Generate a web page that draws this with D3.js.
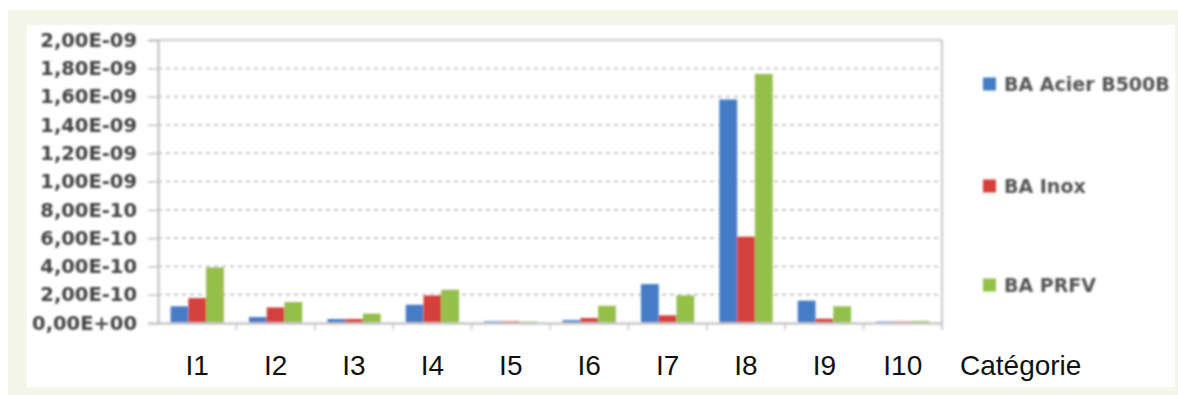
<!DOCTYPE html>
<html>
<head>
<meta charset="utf-8">
<script src="https://cdn.jsdelivr.net/npm/d3@7"></script>
<style>
  html, body { margin: 0; padding: 0; background: #ffffff; }
  svg { display: block; }
</style>
</head>
<body>
<svg id="chart" width="1178" height="395"></svg>
<script>
// Categories and series (values in the chart's unit)
const categories = ["I1", "I2", "I3", "I4", "I5", "I6", "I7", "I8", "I9", "I10"];
const seriesNames = ["BA Acier B500B", "BA Inox", "BA PRFV"];
const acierB500B = [1.18e-10, 0.42e-10, 0.28e-10, 1.29e-10, 0.12e-10, 0.20e-10, 2.75e-10, 1.58e-9, 1.58e-10, 0.10e-10];
const inox       = [1.76e-10, 1.10e-10, 0.28e-10, 1.95e-10, 0.12e-10, 0.35e-10, 0.54e-10, 6.10e-10, 0.30e-10, 0.10e-10];
const prfv       = [3.93e-10, 1.48e-10, 0.66e-10, 2.35e-10, 0.10e-10, 1.22e-10, 1.95e-10, 1.76e-9, 1.18e-10, 0.14e-10];
const yTickValues = [0, 2e-10, 4e-10, 6e-10, 8e-10, 1e-9, 1.2e-9, 1.4e-9, 1.6e-9, 1.8e-9, 2e-9];
const yTickLabels = ["0,00E+00", "2,00E-10", "4,00E-10", "6,00E-10", "8,00E-10", "1,00E-09",
                     "1,20E-09", "1,40E-09", "1,60E-09", "1,80E-09", "2,00E-09"];
const axisTitle = "Catégorie";

const seriesValues = [acierB500B, inox, prfv];
const colors = ["#447cc6", "#d43f3a", "#94bf4a"];

const svg = d3.select("#chart");

// Frame: cream border with white panel
svg.append("rect").attr("x", 8).attr("y", 10).attr("width", 1170).attr("height", 385).attr("fill", "#f3f6e8");
svg.append("rect").attr("x", 27).attr("y", 25).attr("width", 1148).attr("height", 362).attr("fill", "#ffffff");

// Soft blur for the embedded chart graphic
const defs = svg.append("defs");
defs.append("filter").attr("id", "soft").attr("x", "-5%").attr("y", "-5%").attr("width", "110%").attr("height", "110%")
  .append("feGaussianBlur").attr("stdDeviation", 1.0);

const plot = { left: 158, right: 942, top: 40, bottom: 323 };

const x = d3.scaleBand().domain(categories).range([plot.left, plot.right])
  .paddingInner(0.32).paddingOuter(0.16);
const xSub = d3.scaleBand().domain(seriesNames).range([0, x.bandwidth()]);
const xEdges = d3.scaleBand().domain(categories).range([plot.left, plot.right]);
const y = d3.scaleLinear().domain([0, 2e-9]).range([plot.bottom, plot.top]);

const g = svg.append("g").attr("filter", "url(#soft)");

// Gridlines
g.append("g").selectAll("line").data(yTickValues.slice(1, -1)).join("line")
  .attr("x1", plot.left).attr("x2", plot.right)
  .attr("y1", d => y(d)).attr("y2", d => y(d))
  .attr("stroke", "#c0c0c0").attr("stroke-width", 1.7).attr("stroke-dasharray", "4,4");

// Plot border (top and right)
g.append("line").attr("x1", plot.left).attr("x2", plot.right).attr("y1", y(2e-9)).attr("y2", y(2e-9))
  .attr("stroke", "#d0d0d0").attr("stroke-width", 2.5);
g.append("line").attr("x1", plot.right).attr("x2", plot.right).attr("y1", plot.top).attr("y2", plot.bottom + 7)
  .attr("stroke", "#d0d0d0").attr("stroke-width", 2.5);

// Y axis
const yAxis = d3.axisLeft(y).tickValues(yTickValues)
  .tickFormat((d, i) => yTickLabels[i]).tickSize(10).tickPadding(11);
const yg = g.append("g").attr("transform", `translate(${plot.left},0)`).call(yAxis);
yg.select(".domain").attr("stroke", "#c8c8c8").attr("stroke-width", 2.5);
yg.selectAll(".tick line").attr("stroke", "#c8c8c8").attr("stroke-width", 1.6);
yg.selectAll(".tick text").attr("fill", "#444444")
  .style("font-family", "'DejaVu Sans', sans-serif").style("font-weight", "bold").style("font-size", "19.5px");

// Bars
const groups = g.append("g").selectAll("g").data(categories).join("g")
  .attr("transform", d => `translate(${x(d)},0)`);
groups.selectAll("rect").data((c, i) => seriesNames.map((s, k) => ({ s, k, v: seriesValues[k][i] }))).join("rect")
  .attr("x", d => xSub(d.s)).attr("width", xSub.bandwidth())
  .attr("y", d => y(d.v)).attr("height", d => y(0) - y(d.v))
  .attr("fill", d => colors[d.k]);

// X axis line and tick marks at category boundaries
const xg = g.append("g").attr("transform", `translate(0,${plot.bottom})`)
  .call(d3.axisBottom(xEdges).tickSize(0).tickFormat(""));
xg.select(".domain").attr("stroke", "#c8c8c8").attr("stroke-width", 2.5);
g.append("g").selectAll("line").data(categories.slice(1)).join("line")
  .attr("x1", d => xEdges(d)).attr("x2", d => xEdges(d))
  .attr("y1", plot.bottom).attr("y2", plot.bottom + 7)
  .attr("stroke", "#c8c8c8").attr("stroke-width", 1.6);

// Legend
const legendY = [84, 186, 285];
const lg = g.append("g").selectAll("g").data(seriesNames).join("g")
  .attr("transform", (d, i) => `translate(983,${legendY[i]})`);
lg.append("rect").attr("x", 0).attr("y", -6.5).attr("width", 13).attr("height", 13)
  .attr("fill", (d, i) => colors[i]);
lg.append("text").attr("x", 21).attr("y", 0).attr("dy", "0.36em").text(d => d)
  .attr("fill", "#555555")
  .style("font-family", "'DejaVu Sans', sans-serif").style("font-weight", "bold").style("font-size", "19px");

// Category labels
const labels = svg.append("g");
labels.selectAll("text").data(categories).join("text")
  .attr("x", d => x(d) + x.bandwidth() / 2).attr("y", 375)
  .attr("text-anchor", "middle").text(d => d)
  .attr("fill", "#111111")
  .style("font-family", "'Liberation Sans', Arial, sans-serif").style("font-size", "28px");
labels.append("text").attr("x", 960).attr("y", 375).text(axisTitle)
  .attr("fill", "#111111")
  .style("font-family", "'Liberation Sans', Arial, sans-serif").style("font-size", "28px");
</script>
</body>
</html>
